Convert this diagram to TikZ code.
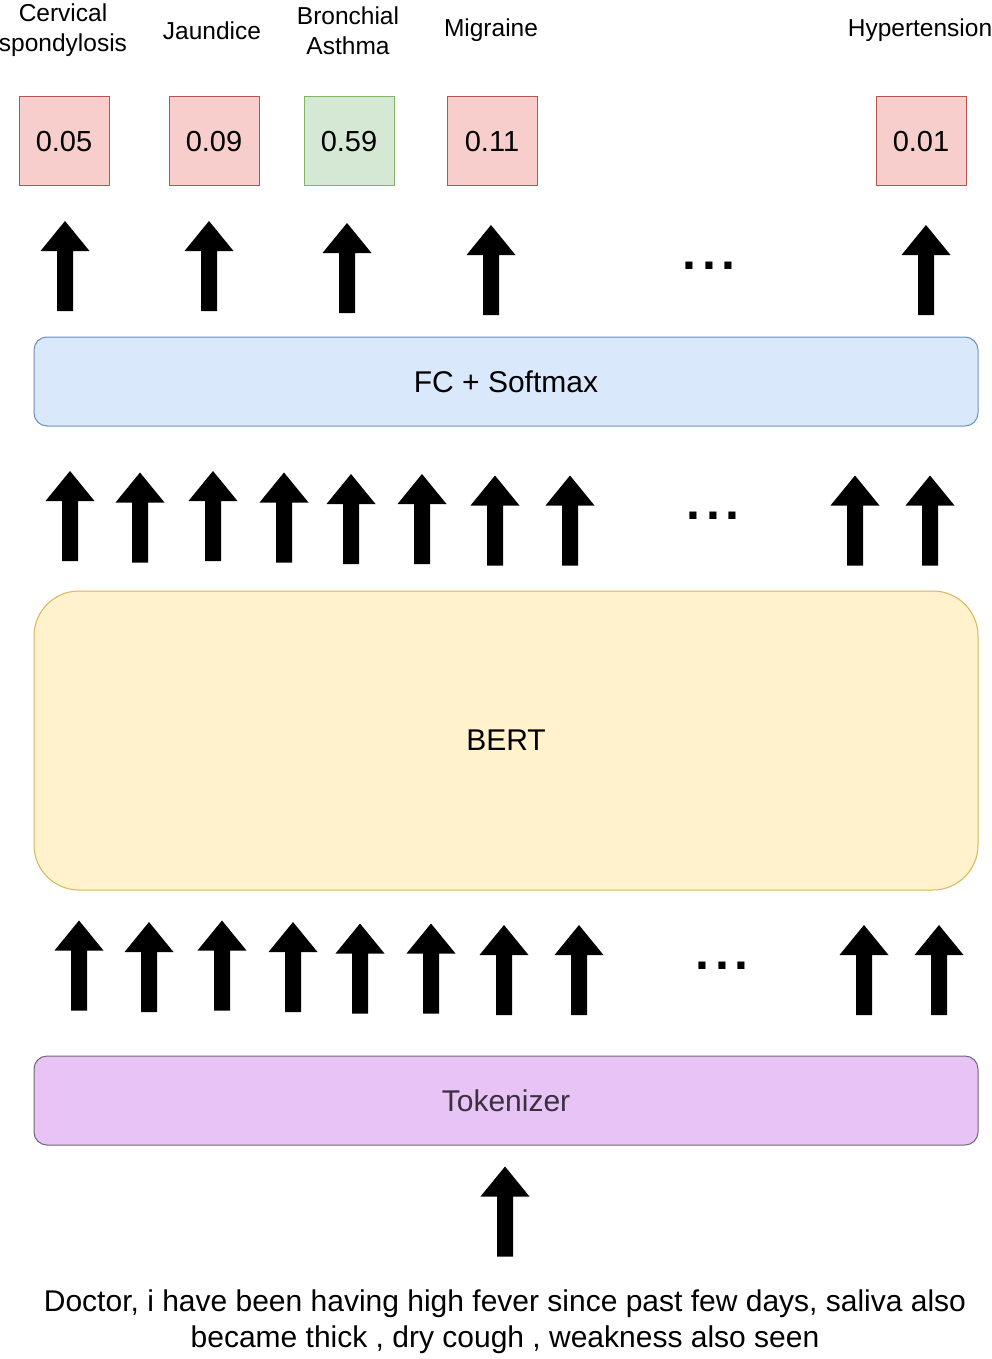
\documentclass[tikz,border=0pt]{standalone}
\usepackage{fontspec}
\setmainfont{Liberation Sans}
\definecolor{redfill}{HTML}{F8CECC}
\definecolor{redline}{HTML}{B85450}
\definecolor{greenfill}{HTML}{D5E8D4}
\definecolor{greenline}{HTML}{82B366}
\definecolor{bluefill}{HTML}{DAE8FC}
\definecolor{blueline}{HTML}{6C8EBF}
\definecolor{yellowfill}{HTML}{FFF2CC}
\definecolor{yellowline}{HTML}{D6B656}
\definecolor{purplefill}{HTML}{E8C3F5}
\definecolor{purpleline}{HTML}{6F6676}
\definecolor{purpletext}{HTML}{3A3040}
\tikzset{
  x=1pt, y=-1pt,
  lbl/.style={inner sep=0pt, align=center, font=\fontsize{24.5}{30}\selectfont},
  probbox/.style={draw, line width=1pt, minimum width=90pt, minimum height=89pt, inner sep=0pt, font=\fontsize{29}{35}\selectfont},
  redbox/.style={probbox, fill=redfill, draw=redline},
  greenbox/.style={probbox, fill=greenfill, draw=greenline},
  layerbox/.style={draw, line width=1pt, inner sep=0pt, font=\fontsize{30}{36}\selectfont},
  dotsnode/.style={inner sep=0pt, anchor=base, font=\fontsize{50}{50}\selectfont\bfseries},
  barrow/.pic={\fill[black] (-8,0) -- (-8,-60) -- (-24.5,-60) -- (0,-90) -- (24.5,-60) -- (8,-60) -- (8,0) -- cycle;}
}
\begin{document}
\begin{tikzpicture}
\useasboundingbox (0,0) rectangle (992,1359);

% top labels
\node[lbl] (l1) at (63,30.5) {Cervical\\spondylosis};
\node[lbl] (l2) at (212,30.5) {Jaundice};
\node[lbl] (l3) at (348,30.5) {Bronchial\\Asthma};
\node[lbl] (l4) at (491,30.5) {Migraine};
\node[lbl] (l5) at (920,30.5) {Hypertension};

% probability boxes
\node[redbox] (p1) at (64,141.5) {\raisebox{-1pt}{0.05}};
\node[redbox] (p2) at (214,141.5) {\raisebox{-1pt}{0.09}};
\node[greenbox] (p3) at (349,141.5) {\raisebox{-1pt}{0.59}};
\node[redbox] (p4) at (492,141.5) {\raisebox{-1pt}{0.11}};
\node[redbox] (p5) at (921,141.5) {\raisebox{-1pt}{0.01}};

% top arrows
\pic at (65,311) {barrow};
\pic at (209,311) {barrow};
\pic at (347,313) {barrow};
\pic at (491,315) {barrow};
\pic at (926,315) {barrow};
\node[dotsnode] (d1) at (709,269) {.\kern6pt.\kern6pt.};

% FC layer
\node[layerbox, fill=bluefill, draw=blueline, rounded corners=13pt, minimum width=944pt, minimum height=89pt] (fc) at (506,381.5) {\raisebox{-1.5pt}{FC + Softmax}};

% row 2 arrows
\pic at (70,561) {barrow};
\pic at (140,562.5) {barrow};
\pic at (213,561) {barrow};
\pic at (284,562.5) {barrow};
\pic at (351,564) {barrow};
\pic at (422,564) {barrow};
\pic at (495,565.5) {barrow};
\pic at (570,565.5) {barrow};
\pic at (855,565.5) {barrow};
\pic at (930,565.5) {barrow};
\node[dotsnode] (d2) at (713,519) {.\kern6pt.\kern6pt.};

% BERT
\node[layerbox, fill=yellowfill, draw=yellowline, rounded corners=45pt, minimum width=944pt, minimum height=299pt] (bert) at (506,740.5) {\raisebox{-1pt}{BERT}};

% row 3 arrows
\pic at (79,1010.5) {barrow};
\pic at (149,1012) {barrow};
\pic at (222,1010.5) {barrow};
\pic at (293,1012) {barrow};
\pic at (360,1013.5) {barrow};
\pic at (431,1013.5) {barrow};
\pic at (504,1015) {barrow};
\pic at (579,1015) {barrow};
\pic at (864,1015) {barrow};
\pic at (939,1015) {barrow};
\node[dotsnode] (d3) at (722,969) {.\kern6pt.\kern6pt.};

% Tokenizer
\node[layerbox, fill=purplefill, draw=purpleline, text=purpletext, rounded corners=13pt, minimum width=944pt, minimum height=89pt] (tok) at (506,1100.5) {\raisebox{-1pt}{Tokenizer}};

% input arrow
\pic at (505,1256.5) {barrow};

% input text
\node[inner sep=0pt, align=center, font=\fontsize{30}{36}\selectfont] (txt) at (505,1321.5) {Doctor, i have been having high fever since past few days, saliva also\\became thick , dry cough , weakness also seen};
\end{tikzpicture}
\end{document}
